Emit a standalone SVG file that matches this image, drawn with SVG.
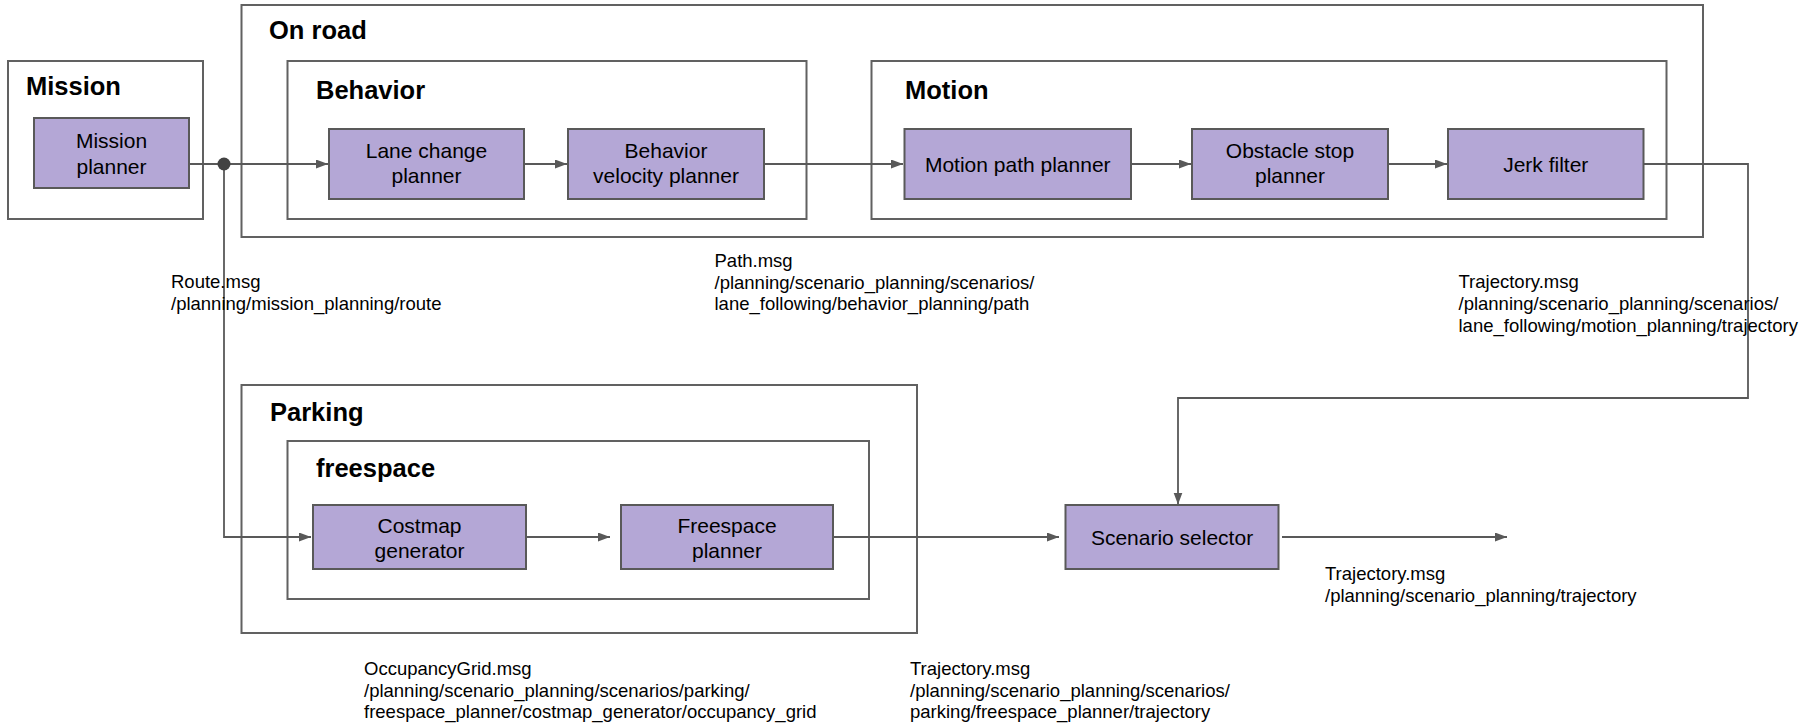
<svg xmlns="http://www.w3.org/2000/svg" width="1819" height="725" viewBox="0 0 1819 725">
  <style>
    .frame { fill: none; stroke: #616161; stroke-width: 2; }
    .node rect { fill: #b4a7d6; stroke: #595959; stroke-width: 2; }
    .node text { font-family: "Liberation Sans", Arial, sans-serif; font-size: 21px; fill: #000; text-anchor: middle; }
    .title { font-family: "Liberation Sans", Arial, sans-serif; font-size: 25.5px; font-weight: bold; fill: #000; }
    .wire { fill: none; stroke: #595959; stroke-width: 1.8; }
    .arrow { marker-end: url(#head); }
    .msg { font-family: "Liberation Sans", Arial, sans-serif; font-size: 18.5px; fill: #000; }
  </style>
  <defs>
    <marker id="head" markerUnits="userSpaceOnUse" markerWidth="13" markerHeight="10" refX="12" refY="4.5" orient="auto">
      <path d="M0,0 L12,4.5 L0,9 z" fill="#595959"/>
    </marker>
  </defs>
  <rect width="1819" height="725" fill="#ffffff"/>

  <!-- grouping frames -->
  <g id="mission-group">
    <rect class="frame" x="8" y="61" width="195" height="158"/>
    <text class="title" x="26" y="95">Mission</text>
  </g>
  <g id="on-road-group">
    <rect class="frame" x="241.5" y="5" width="1461.5" height="232"/>
    <text class="title" x="269" y="38.5">On road</text>
  </g>
  <g id="behavior-group">
    <rect class="frame" x="287.5" y="61" width="519" height="158"/>
    <text class="title" x="316" y="99">Behavior</text>
  </g>
  <g id="motion-group">
    <rect class="frame" x="871.5" y="61" width="795" height="158"/>
    <text class="title" x="905" y="99">Motion</text>
  </g>
  <g id="parking-group">
    <rect class="frame" x="241.5" y="385" width="675.5" height="248"/>
    <text class="title" x="270" y="421">Parking</text>
  </g>
  <g id="freespace-group">
    <rect class="frame" x="287.5" y="441" width="581.5" height="158"/>
    <text class="title" x="316" y="477">freespace</text>
  </g>

  <!-- planner nodes -->
  <g id="mission-planner" class="node">
    <rect x="34" y="118" width="155" height="70"/>
    <text x="111.5" y="148">Mission</text>
    <text x="111.5" y="174">planner</text>
  </g>
  <g id="lane-change-planner" class="node">
    <rect x="329" y="129" width="195" height="70"/>
    <text x="426.5" y="158">Lane change</text>
    <text x="426.5" y="183">planner</text>
  </g>
  <g id="behavior-velocity-planner" class="node">
    <rect x="568" y="129" width="196" height="70"/>
    <text x="666" y="158">Behavior</text>
    <text x="666" y="183">velocity planner</text>
  </g>
  <g id="motion-path-planner" class="node">
    <rect x="904.5" y="129" width="226.5" height="70"/>
    <text x="1017.75" y="172">Motion path planner</text>
  </g>
  <g id="obstacle-stop-planner" class="node">
    <rect x="1192" y="129" width="196" height="70"/>
    <text x="1290" y="158">Obstacle stop</text>
    <text x="1290" y="183">planner</text>
  </g>
  <g id="jerk-filter" class="node">
    <rect x="1448" y="129" width="195.5" height="70"/>
    <text x="1545.75" y="172">Jerk filter</text>
  </g>
  <g id="costmap-generator" class="node">
    <rect x="313" y="505" width="213" height="64"/>
    <text x="419.5" y="533">Costmap</text>
    <text x="419.5" y="558">generator</text>
  </g>
  <g id="freespace-planner" class="node">
    <rect x="621" y="505" width="212" height="64"/>
    <text x="727" y="533">Freespace</text>
    <text x="727" y="558">planner</text>
  </g>
  <g id="scenario-selector" class="node">
    <rect x="1065.5" y="505" width="213" height="64"/>
    <text x="1172" y="545">Scenario selector</text>
  </g>

  <!-- connectors -->
  <g id="connectors">
    <path class="wire arrow" d="M189,164 H328"/>
    <path class="wire arrow" d="M224,164 V537 H311"/>
    <circle cx="224" cy="164" r="6.5" fill="#424242"/>
    <path class="wire arrow" d="M524,164 H567"/>
    <path class="wire arrow" d="M764,164 H903"/>
    <path class="wire arrow" d="M1131,164 H1191"/>
    <path class="wire arrow" d="M1388,164 H1447"/>
    <path class="wire arrow" d="M1643.5,164 H1748 V398 H1178 V504.5"/>
    <path class="wire arrow" d="M526,537 H610"/>
    <path class="wire arrow" d="M833,537 H1059"/>
    <path class="wire arrow" d="M1282,537 H1507"/>
  </g>

  <!-- topic labels -->
  <g id="topic-labels" class="msg">
    <text x="171" y="288">Route.msg</text>
    <text x="171" y="309.5">/planning/mission_planning/route</text>

    <text x="714.5" y="267">Path.msg</text>
    <text x="714.5" y="288.5">/planning/scenario_planning/scenarios/</text>
    <text x="714.5" y="310">lane_following/behavior_planning/path</text>

    <text x="1458.5" y="288">Trajectory.msg</text>
    <text x="1458.5" y="310">/planning/scenario_planning/scenarios/</text>
    <text x="1458.5" y="332">lane_following/motion_planning/trajectory</text>

    <text x="364" y="675">OccupancyGrid.msg</text>
    <text x="364" y="696.5">/planning/scenario_planning/scenarios/parking/</text>
    <text x="364" y="718">freespace_planner/costmap_generator/occupancy_grid</text>

    <text x="910" y="675">Trajectory.msg</text>
    <text x="910" y="696.5">/planning/scenario_planning/scenarios/</text>
    <text x="910" y="718">parking/freespace_planner/trajectory</text>

    <text x="1325" y="580">Trajectory.msg</text>
    <text x="1325" y="601.5">/planning/scenario_planning/trajectory</text>
  </g>
</svg>
